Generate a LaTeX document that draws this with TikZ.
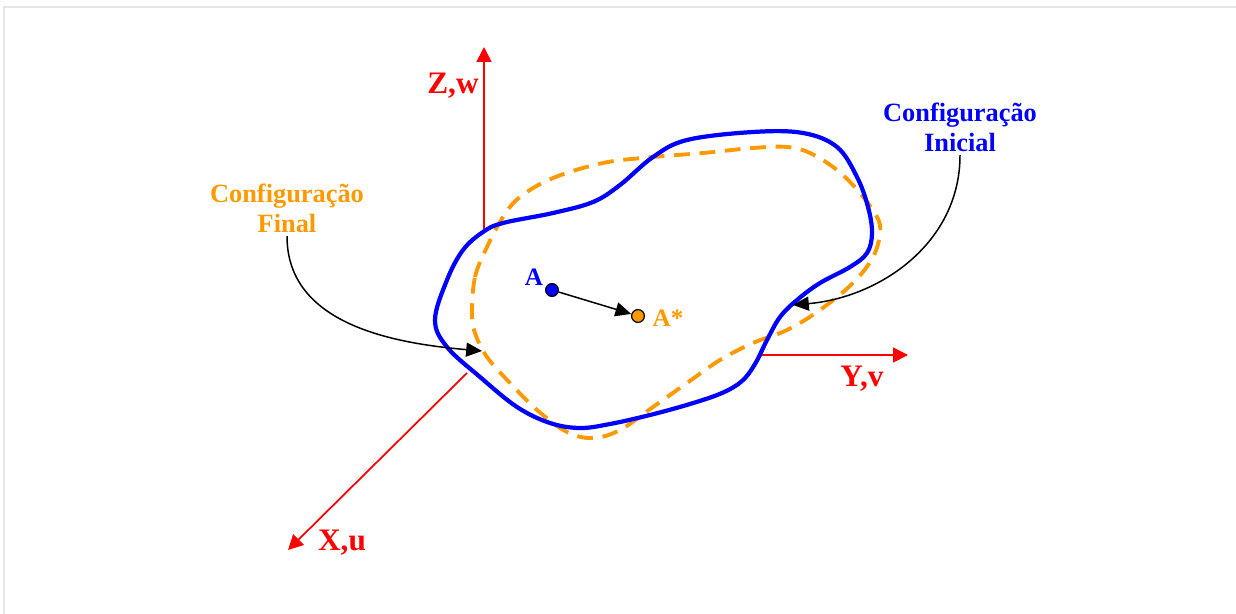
\documentclass[tikz,border=0pt]{standalone}
\usepackage{fontspec}
\setmainfont{Liberation Serif}
\usetikzlibrary{arrows.meta}
\definecolor{cfgblue}{RGB}{0,0,255}
\definecolor{cfgorange}{RGB}{255,153,0}
\definecolor{axisred}{RGB}{255,0,0}
\definecolor{framegray}{RGB}{230,230,230}
\tikzset{
    axis/.style={draw=axisred, line width=1pt, -{Triangle[length=8.5pt,width=8.5pt]}},
    axis label/.style={text=axisred, font=\fontsize{17.8}{21}\selectfont\bfseries, anchor=base, inner sep=0pt},
    pointer/.style={draw, line width=0.85pt, -{Triangle[length=9pt,width=8pt]}},
    dot/.style={circle, draw=black, line width=0.7pt, minimum size=7.3pt, inner sep=0pt},
    cfg label/.style={font=\fontsize{15}{17}\selectfont\bfseries, align=center, inner sep=2pt},
    pt label/.style={font=\fontsize{14.3}{17}\selectfont\bfseries, anchor=base, inner sep=0pt},
}

\begin{document}
\begin{tikzpicture}[x=0.02cm, y=-0.02cm]
\useasboundingbox (0,0) rectangle (1236,614);

% Frame
\draw[framegray, line width=0.8pt] (4,614) -- (4,7) -- (1236,7);

% Axes
\coordinate (Z0) at (484,232);
\coordinate (Z1) at (484,47);
\coordinate (Y0) at (760,355);
\coordinate (Y1) at (908,355);
\coordinate (X0) at (467,373);
\coordinate (X1) at (288,550);
\draw[axis] (Z0) -- (Z1);
\draw[axis] (Y0) -- (Y1);
\draw[axis] (X0) -- (X1);
\node[axis label] (Zlabel) at (453,94) {Z,w};
\node[axis label] (Ylabel) at (862,387) {Y,v};
\node[axis label] (Xlabel) at (342,550) {X,u};

% Final configuration (dashed)
\draw[cfgorange, line width=2.2pt, dash pattern=on 9pt off 5.5pt]
  plot[smooth cycle, tension=0.6] coordinates {
    (472,313) (475,277) (487,247) (503,217) (520,197) (553,178) (603,163)
    (653,157) (703,153) (753,148) (787,147) (810,153) (837,170) (860,193)
    (877,217) (880,233) (873,257) (853,283) (820,310) (787,330) (753,343)
    (720,360) (687,383) (653,407) (620,430) (593,438) (567,432) (537,410)
    (510,383) (487,357) (475,333)};

% Initial configuration
\draw[cfgblue, line width=2.4pt]
  plot[smooth cycle, tension=0.6] coordinates {
    (435,320) (447,280) (463,250) (483,232) (503,223) (553,213) (593,202)
    (620,185) (653,157) (687,140) (753,132) (803,133) (837,147) (857,177)
    (868,207) (872,233) (867,253) (850,267) (820,283) (797,300) (780,317)
    (767,340) (755,364) (742,381) (722,393) (690,404) (650,415) (610,424)
    (580,428) (550,423) (517,407) (480,377) (447,347)};

% Points
\node[dot, fill=cfgblue] (A) at (552,290) {};
\node[dot, fill=cfgorange] (Astar) at (638,316) {};
\node[pt label, text=cfgblue] (Alabel) at (534,286) {A};
\node[pt label, text=cfgorange] (Astarlabel) at (668,327) {A*};
\draw[pointer] (A) -- (Astar);

% Labels with pointers
\node[cfg label, text=cfgorange] (Final) at (287,208) {Configuração\\Final};
\node[cfg label, text=cfgblue] (Inicial) at (960,127) {Configuração\\Inicial};
\coordinate (Ftip) at (482,351);
\coordinate (Itip) at (793,305);
\draw[pointer] (Final.south) to[out=-90, in=175] (Ftip);
\draw[pointer] (Inicial.south) to[out=-90, in=5] (Itip);

\end{tikzpicture}
\end{document}
